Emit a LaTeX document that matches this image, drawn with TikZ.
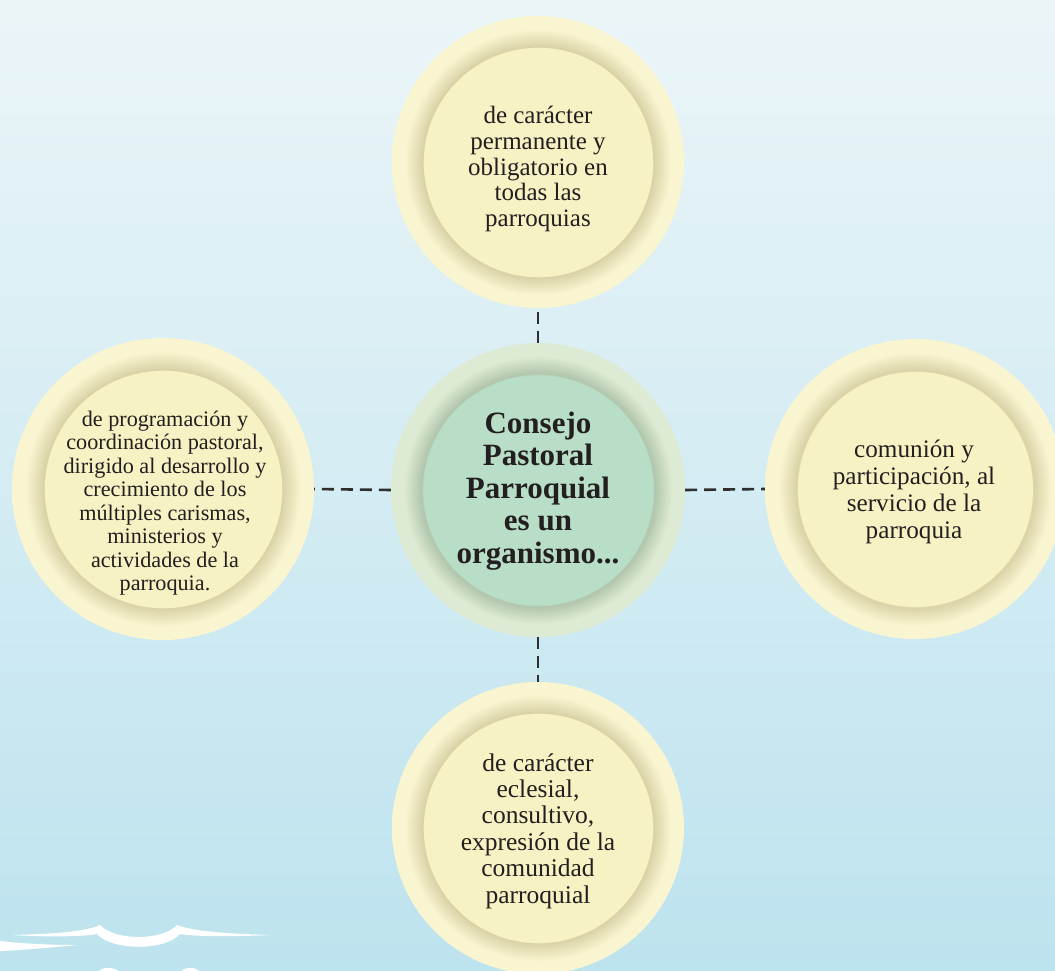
\documentclass[tikz,border=0pt]{standalone}
\usepackage{fontspec}
\setmainfont{Liberation Serif}
\definecolor{bgTop}{HTML}{EBF5F8}
\definecolor{bgMid}{HTML}{DAEFF6}
\definecolor{bgBot}{HTML}{BDE3EE}
\definecolor{outY}{HTML}{F9F5D0}
\definecolor{shdY}{HTML}{D8D1A6}
\definecolor{innY}{HTML}{F7F2C3}
\definecolor{outG}{HTML}{DDEAD4}
\definecolor{shdG}{HTML}{AFC4AA}
\definecolor{innG}{HTML}{B9DEC7}
\definecolor{txtcol}{HTML}{231F20}
\definecolor{dashcol}{HTML}{2E2E2E}
\pgfdeclareradialshading{ringY}{\pgfpoint{0bp}{0bp}}{color(0bp)=(innY); color(19.6bp)=(innY); color(19.7bp)=(shdY); color(20.6bp)=(shdY!70!outY); color(22.8bp)=(outY); color(25bp)=(outY); color(50bp)=(outY)}
\pgfdeclareradialshading{ringG}{\pgfpoint{0bp}{0bp}}{color(0bp)=(innG); color(19.6bp)=(innG); color(19.7bp)=(shdG); color(20.6bp)=(shdG!70!outG); color(22.8bp)=(outG); color(25bp)=(outG); color(50bp)=(outG)}
\tikzset{
  yring/.style={circle, inner sep=0pt, shade, shading=ringY},
  gring/.style={circle, inner sep=0pt, shade, shading=ringG},
  txt/.style={align=center, inner sep=0pt, text=txtcol},
  dashline/.style={draw=dashcol, line width=2.6pt, dash pattern=on 12pt off 7pt},
  wave/.style={fill=white, draw=none}
}
\begin{document}
\begin{tikzpicture}[x=1pt,y=-1pt]
\useasboundingbox (0,0) rectangle (1055,970);
\clip (0,0) rectangle (1055,970);
\shade[top color=bgTop, middle color=bgMid, bottom color=bgBot] (0,0) rectangle (1055,970);

% circles
\node[yring, minimum size=292pt] (t) at (538,162) {};
\node[gring, minimum size=294pt] (c) at (538,490) {};
\node[yring, minimum size=302pt] (l) at (163,489) {};
\node[yring, minimum size=300pt] (r) at (915,489) {};
\node[yring, minimum size=292pt] (b) at (538,828) {};

% connectors
\draw[dashline] (c.west) -- (l.east);
\draw[dashline] (c.east) -- (r.west);
\draw[dashline] (c.north) -- (t.south);
\draw[dashline] (c.south) -- (b.north);

% texts
\node[txt, font=\fontsize{25}{25.8}\selectfont] (tt) at (538,169)
  {de carácter\\permanente y\\obligatorio en\\todas las\\parroquias};
\node[txt, font=\bfseries\fontsize{31}{32.5}\selectfont] (ct) at (538,491)
  {Consejo\\Pastoral\\Parroquial\\es un\\organismo...};
\node[txt, font=\fontsize{22.2}{23.5}\selectfont] (lt) at (165,503)
  {de programación y\\coordinación pastoral,\\dirigido al desarrollo y\\crecimiento de los\\múltiples carismas,\\ministerios y\\actividades de la\\parroquia.};
\node[txt, font=\fontsize{25.2}{27}\selectfont] (rt) at (914,492)
  {comunión y\\participación, al\\servicio de la\\parroquia};
\node[txt, font=\fontsize{25.5}{26.4}\selectfont] (bt) at (538,831)
  {de carácter\\eclesial,\\consultivo,\\expresión de la\\comunidad\\parroquial};

% white wave ornament bottom-left
\path[wave] (12,935) .. controls (50,934) and (85,932) .. (100,925)
  .. controls (115,941) and (162,941) .. (177,925)
  .. controls (195,932) and (235,934) .. (272,935)
  .. controls (235,936.5) and (200,937) .. (180,934)
  .. controls (165,951) and (112,951) .. (97,934)
  .. controls (80,937) and (45,937) .. (12,935) -- cycle;
\path[wave] (0,941) .. controls (25,944) and (55,945) .. (78,945)
  .. controls (55,947) and (25,950) .. (0,951) -- cycle;
\path[wave] (98,972) .. controls (102,967) and (113,966) .. (120,972) -- cycle;
\path[wave] (180,972) .. controls (185,967) and (195,966) .. (200,972) -- cycle;
\end{tikzpicture}
\end{document}
